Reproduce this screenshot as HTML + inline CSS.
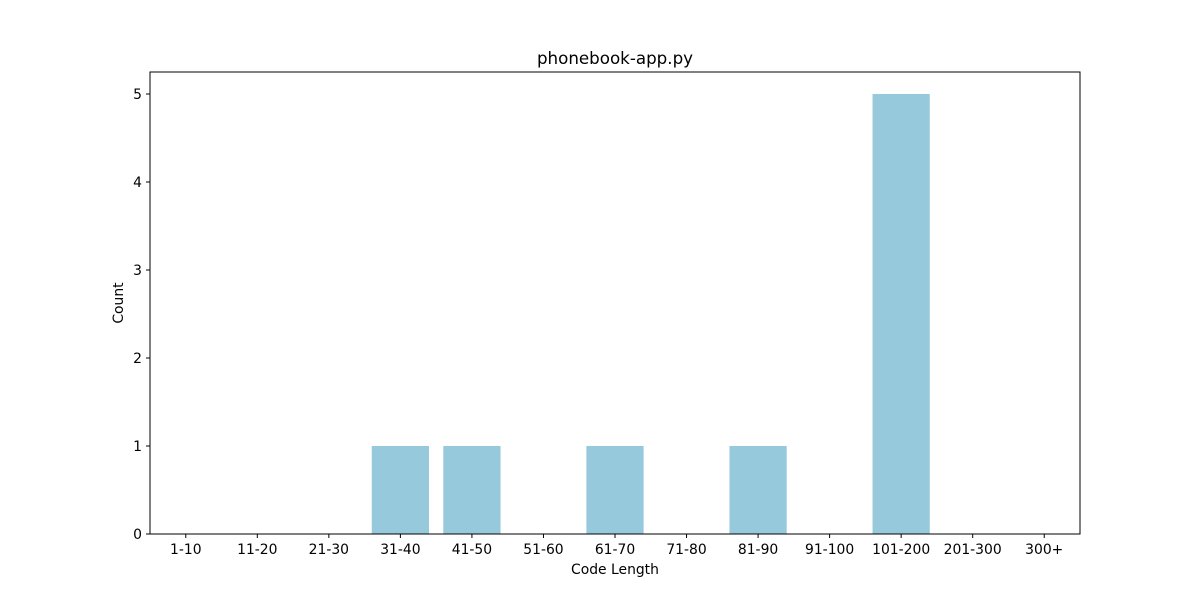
<!DOCTYPE html>
<html><head><meta charset="utf-8"><style>
body{margin:0;background:#fff;font-family:"DejaVu Sans","Liberation Sans",sans-serif;}
svg text{font-family:"DejaVu Sans","Liberation Sans",sans-serif;}
</style></head><body>
<svg id="chart" width="1200" height="600" xmlns="http://www.w3.org/2000/svg">
<rect width="1200" height="600" fill="#fff"/>
<text x="615" y="64" text-anchor="middle" font-size="16.7">phonebook-app.py</text>
<g id="bars"></g>
<g id="axes"></g>
<rect x="150" y="72" width="930" height="462" fill="none" stroke="#000" stroke-width="1"/>
<text x="615" y="574" text-anchor="middle" font-size="13.9">Code Length</text>
<text x="123" y="303" text-anchor="middle" font-size="13.9" transform="rotate(-90 123 303)">Count</text>
</svg>
<script>
const categories=["1-10","11-20","21-30","31-40","41-50","51-60","61-70","71-80","81-90","91-100","101-200","201-300","300+"];
const counts=[0,0,0,1,1,0,1,0,1,0,5,0,0];
const yTicks=[0,1,2,3,4,5];
const L=150,R=1080,T=72,B=534;
const xMin=-0.5,xMax=12.5,yMin=0,yMax=5.25;
const xs=v=>L+(v-xMin)/(xMax-xMin)*(R-L);
const ys=v=>B-(v-yMin)/(yMax-yMin)*(B-T);
const NS="http://www.w3.org/2000/svg";
const bars=document.getElementById('bars'),axes=document.getElementById('axes');
function mk(tag,attrs,parent){const e=document.createElementNS(NS,tag);for(const k in attrs)e.setAttribute(k,attrs[k]);parent.appendChild(e);return e;}
categories.forEach((c,i)=>{
  const x0=xs(i-0.4),x1=xs(i+0.4),y=ys(counts[i]);
  const r=mk('rect',{x:x0,y:y,width:x1-x0,height:ys(0)-y,fill:'#96c9dc'},bars);
  
  
  const t=mk('line',{x1:xs(i),x2:xs(i),y1:B,y2:B+4,stroke:'#000'},axes);
  
  
  const l=mk('text',{x:xs(i),y:B+20,'text-anchor':'middle','font-size':13.9},axes);
  l.textContent=c;
  
  
});
yTicks.forEach(v=>{
  const t=mk('line',{x1:L-4,x2:L,y1:ys(v),y2:ys(v),stroke:'#000'},axes);
  
  
  const l=mk('text',{x:L-8,y:ys(v)+5,'text-anchor':'end','font-size':13.9},axes);
  l.textContent=v;
  
  
});
</script>
</body></html>
